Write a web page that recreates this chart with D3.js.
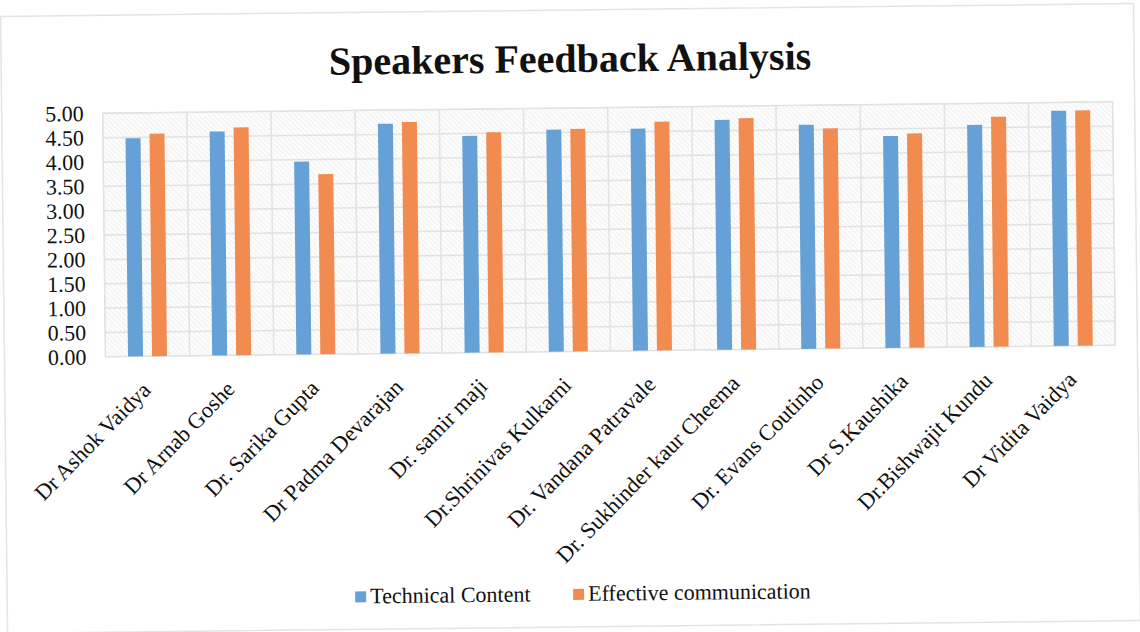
<!DOCTYPE html>
<html>
<head>
<meta charset="utf-8">
<script src="https://cdn.jsdelivr.net/npm/d3@7"></script>
<style>
  body { margin: 0; background: #fff; }
  svg { display: block; }
  svg text { font-family: "Liberation Serif", "Times New Roman", serif; }
</style>
</head>
<body>
<div id="chart"></div>
<script>
const speakers = [
  "Dr Ashok Vaidya", "Dr Arnab Goshe", "Dr. Sarika Gupta", "Dr Padma Devarajan",
  "Dr. samir maji", "Dr.Shrinivas Kulkarni", "Dr. Vandana Patravale",
  "Dr. Sukhinder kaur Cheema", "Dr. Evans Coutinho", "Dr S.Kaushika",
  "Dr.Bishwajit Kundu", "Dr Vidita Vaidya"
];
const technicalContent = [4.48, 4.60, 3.96, 4.72, 4.45, 4.56, 4.56, 4.72, 4.60, 4.35, 4.56, 4.83];
const effectiveCommunication = [4.57, 4.68, 3.70, 4.75, 4.52, 4.57, 4.70, 4.75, 4.52, 4.40, 4.72, 4.83];
const seriesNames = ["Technical Content", "Effective communication"];
const yTicks = [0, 0.5, 1, 1.5, 2, 2.5, 3, 3.5, 4, 4.5, 5];

const width = 1140, height = 632;
const colors = { "Technical Content": "#65a0d6", "Effective communication": "#f18b50" };

const svg = d3.select("#chart").append("svg")
  .attr("width", width)
  .attr("height", height);

// hatch background of the plot area
const pat = svg.append("defs").append("pattern")
  .attr("id", "hatch")
  .attr("width", 5).attr("height", 5)
  .attr("patternUnits", "userSpaceOnUse");
pat.append("rect").attr("width", 5).attr("height", 5).attr("fill", "#fcfcfc");
pat.append("path")
  .attr("d", "M0,0 L5,5 M-1,4 L1,6 M4,-1 L6,1")
  .attr("stroke", "#ececec")
  .attr("stroke-width", 1);

// the scan is a little tilted
const g = svg.append("g").attr("transform", "rotate(-0.65, 570, 316)");

g.append("rect")
  .attr("x", 4).attr("y", 10)
  .attr("width", 1133).attr("height", 617)
  .attr("fill", "none")
  .attr("stroke", "#e4e4e4")
  .attr("stroke-width", 1.5);

const x = d3.scaleBand().domain(speakers).range([105, 1115]);
const bw = x.bandwidth();
const xSub = d3.scaleBand().domain(seriesNames)
  .range([bw / 2 - 19.5, bw / 2 + 19.5])
  .paddingInner(0.375);
const y = d3.scaleLinear().domain([0, 5]).range([351.5, 108]);

g.append("text")
  .attr("x", 573).attr("y", 72)
  .attr("text-anchor", "middle")
  .attr("font-size", 40)
  .attr("font-weight", "bold")
  .attr("fill", "#111")
  .text("Speakers Feedback Analysis");

g.append("rect")
  .attr("x", x.range()[0]).attr("y", y(5))
  .attr("width", x.range()[1] - x.range()[0])
  .attr("height", y(0) - y(5))
  .attr("fill", "url(#hatch)")
  .attr("stroke", "#e2e2e2");

// grid
g.append("g").selectAll("line")
  .data(yTicks)
  .join("line")
  .attr("x1", x.range()[0]).attr("x2", x.range()[1])
  .attr("y1", d => y(d)).attr("y2", d => y(d))
  .attr("stroke", "#e2e2e2")
  .attr("stroke-width", 1.5);

g.append("g").selectAll("line")
  .data(speakers.concat([null]))
  .join("line")
  .attr("x1", d => d === null ? x.range()[1] : x(d))
  .attr("x2", d => d === null ? x.range()[1] : x(d))
  .attr("y1", y(0)).attr("y2", y(5))
  .attr("stroke", "#e2e2e2")
  .attr("stroke-width", 1.5);

// y axis
const yAxis = g.append("g")
  .attr("transform", "translate(100,0)")
  .call(d3.axisLeft(y).tickValues(yTicks).tickFormat(d3.format(".2f")).tickSize(0).tickPadding(14));
yAxis.select(".domain").remove();
yAxis.selectAll("text")
  .style("font-family", "'Liberation Serif', 'Times New Roman', serif")
  .style("font-size", "22px")
  .attr("fill", "#111");

// bars
const rows = speakers.map((s, i) => ({
  name: s,
  values: [
    { key: seriesNames[0], v: technicalContent[i] },
    { key: seriesNames[1], v: effectiveCommunication[i] }
  ]
}));

g.append("g").selectAll("g")
  .data(rows)
  .join("g")
  .attr("transform", d => `translate(${x(d.name)},0)`)
  .selectAll("rect")
  .data(d => d.values)
  .join("rect")
  .attr("x", d => xSub(d.key))
  .attr("width", xSub.bandwidth())
  .attr("y", d => y(d.v))
  .attr("height", d => y(0) - y(d.v))
  .attr("fill", d => colors[d.key]);

// x labels
g.append("g").selectAll("text")
  .data(speakers)
  .join("text")
  .attr("transform", d => `translate(${x(d) + bw / 2 + 4},${y(0) + 35}) rotate(-45)`)
  .attr("text-anchor", "end")
  .style("font-size", "22.5px")
  .attr("fill", "#111")
  .text(d => d);

// legend
const legend = g.append("g").attr("transform", "translate(352,601)");
const items = legend.selectAll("g")
  .data(seriesNames)
  .join("g")
  .attr("transform", (d, i) => `translate(${i * 218},0)`);
items.append("rect")
  .attr("x", 0).attr("y", -12)
  .attr("width", 11).attr("height", 11)
  .attr("fill", d => colors[d]);
items.append("text")
  .attr("x", 15).attr("y", 0)
  .style("font-size", "22px")
  .attr("fill", "#111")
  .text(d => d);
</script>
</body>
</html>
